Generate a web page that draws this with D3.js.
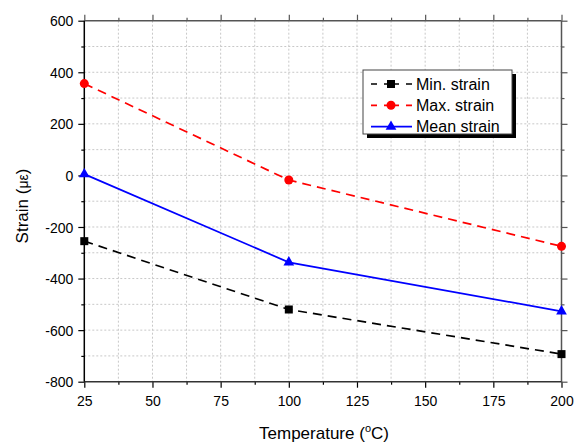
<!DOCTYPE html>
<html><head><meta charset="utf-8">
<script src="https://cdn.jsdelivr.net/npm/d3@7"></script>
<style>body{margin:0;background:#fff;} text{font-family:Arial,"Liberation Sans",sans-serif;}</style>
</head><body><svg id="c" width="581" height="442"></svg>
<script>
const temps = [25, 100, 200];
const minStrain = [-255, -520, -693];
const maxStrain = [356, -18, -275];
const meanStrain = [5, -337, -527];
const xTicks = [25, 50, 75, 100, 125, 150, 175, 200];
const yTicks = [-800, -600, -400, -200, 0, 200, 400, 600];
const seriesNames = ["Min. strain", "Max. strain", "Mean strain"];
const seriesColors = ["#000000", "#ff0000", "#0000ff"];
const seriesDash = ["9,6", "9,6", null];
const seriesMarkers = ["square", "circle", "triangle"];

const svg = d3.select("#c");
const L = 84.3, R = 561.5, T = 20.7, B = 381.7;
const x = d3.scaleLinear().domain([25, 200]).range([L, R]);
const y = d3.scaleLinear().domain([-800, 600]).range([B, T]);

const xMinor = d3.range(25, 200.01, 12.5);
const yMinor = d3.range(-800, 600.01, 100);

// grid
const g = svg.append("g");
g.selectAll(".vg").data(xMinor.filter(v => v > 25 && v < 200)).enter().append("line")
  .attr("x1", d => x(d)).attr("x2", d => x(d)).attr("y1", T).attr("y2", B)
  .attr("stroke", "#c8c8c8").attr("stroke-width", 1).attr("stroke-dasharray", "2,2");
g.selectAll(".hg").data(yMinor.filter(v => v > -800 && v < 600)).enter().append("line")
  .attr("y1", d => y(d)).attr("y2", d => y(d)).attr("x1", L).attr("x2", R)
  .attr("stroke", "#c8c8c8").attr("stroke-width", 1).attr("stroke-dasharray", "2,2");

// axes
const xMajorSet = new Set(xTicks);
const yMajorSet = new Set(yTicks);
function tickLen(isMajor){return isMajor ? 6 : 3;}

const bottom = d3.axisBottom(x).tickValues(xMinor).tickSize(0).tickFormat(d => xMajorSet.has(d) ? d : "");
const ba = svg.append("g").attr("transform", `translate(0,${B})`).call(bottom);
ba.select(".domain").remove();
ba.selectAll("text").attr("font-size", 14).attr("fill", "#000").attr("dy", null).attr("y", 24.5);
ba.selectAll(".tick line").remove();
ba.selectAll(".tick").append("line").attr("y1", 0).attr("y2", d => tickLen(xMajorSet.has(d))).attr("stroke", "#000").attr("stroke-width", 1.2);

const left = d3.axisLeft(y).tickValues(yMinor).tickSize(0).tickFormat(d => yMajorSet.has(d) ? d : "");
const la = svg.append("g").attr("transform", `translate(${L},0)`).call(left);
la.select(".domain").remove();
la.selectAll("text").attr("font-size", 14).attr("fill", "#000").attr("x", -11).attr("dy", "0.36em");
la.selectAll(".tick line").remove();
la.selectAll(".tick").append("line").attr("x1", 0).attr("x2", d => -tickLen(yMajorSet.has(d))).attr("stroke", "#000").attr("stroke-width", 1.2);

// top & right ticks
const ta = svg.append("g").attr("transform", `translate(0,${T})`).call(d3.axisTop(x).tickValues(xMinor).tickSize(0).tickFormat(""));
ta.select(".domain").remove(); ta.selectAll(".tick line").remove();
ta.selectAll(".tick").append("line").attr("y1", 0).attr("y2", d => -tickLen(xMajorSet.has(d))).attr("stroke", "#555").attr("stroke-width", 1.2);
const ra = svg.append("g").attr("transform", `translate(${R},0)`).call(d3.axisRight(y).tickValues(yMinor).tickSize(0).tickFormat(""));
ra.select(".domain").remove(); ra.selectAll(".tick line").remove();
ra.selectAll(".tick").append("line").attr("x1", 0).attr("x2", d => tickLen(yMajorSet.has(d))).attr("stroke", "#555").attr("stroke-width", 1.2);

// frame
svg.append("line").attr("x1", L).attr("x2", R).attr("y1", T).attr("y2", T).attr("stroke", "#555").attr("stroke-width", 1.5);
svg.append("line").attr("x1", R).attr("x2", R).attr("y1", T).attr("y2", B).attr("stroke", "#555").attr("stroke-width", 1.5);
svg.append("line").attr("x1", L).attr("x2", R).attr("y1", B).attr("y2", B).attr("stroke", "#333").attr("stroke-width", 1.5);
svg.append("line").attr("x1", L).attr("x2", L).attr("y1", T).attr("y2", B).attr("stroke", "#000").attr("stroke-width", 1.5);

// series
const series = [minStrain, maxStrain, meanStrain];
const line = d3.line().x((d, i) => x(temps[i])).y(d => y(d));
function marker(sel, type, color, cx, cy){
  if(type === "square") sel.append("rect").attr("x", cx-4).attr("y", cy-4).attr("width", 8).attr("height", 8).attr("fill", color);
  else if(type === "circle") sel.append("circle").attr("cx", cx).attr("cy", cy).attr("r", 4.5).attr("fill", color);
  else sel.append("path").attr("d", d3.symbol().type(d3.symbolTriangle).size(50)()).attr("transform", `translate(${cx},${cy})`).attr("fill", color);
}
const plot = svg.append("g");
series.forEach((s, k) => {
  plot.append("path").datum(s).attr("d", line).attr("fill", "none")
    .attr("stroke", seriesColors[k]).attr("stroke-width", 1.7)
    .attr("stroke-dasharray", seriesDash[k]);
  s.forEach((v, i) => marker(plot, seriesMarkers[k], seriesColors[k], x(temps[i]), y(v)));
});

// legend
const lg = svg.append("g");
lg.append("rect").attr("x", 367).attr("y", 74).attr("width", 149).attr("height", 64).attr("fill", "#000");
lg.append("rect").attr("x", 363).attr("y", 70).attr("width", 149).attr("height", 64).attr("fill", "#fff").attr("stroke", "#444").attr("stroke-width", 1);
seriesNames.forEach((n, k) => {
  const yy = 84 + k * 21.3;
  lg.append("line").attr("x1", 371).attr("x2", 412).attr("y1", yy).attr("y2", yy)
    .attr("stroke", seriesColors[k]).attr("stroke-width", 1.7).attr("stroke-dasharray", seriesDash[k] ? "6,7,15,7,6" : null);
  marker(lg, seriesMarkers[k], seriesColors[k], 391, yy);
  lg.append("text").attr("x", 416).attr("y", yy).attr("dy", "0.36em").attr("font-size", 16).text(n);
});

// axis titles
const xt = svg.append("text").attr("x", 324).attr("y", 439).attr("text-anchor", "middle").attr("font-size", 17);
xt.append("tspan").text("Temperature (");
xt.append("tspan").attr("font-size", 11).attr("dy", -7).text("o");
xt.append("tspan").attr("dy", 7).text("C)");
const yt = svg.append("text").attr("transform", "translate(28,206) rotate(-90)").attr("text-anchor", "middle").attr("font-size", 17);
yt.append("tspan").text("Strain (");
yt.append("tspan").attr("font-size", 14).text("με");
yt.append("tspan").text(")");
</script></body></html>
